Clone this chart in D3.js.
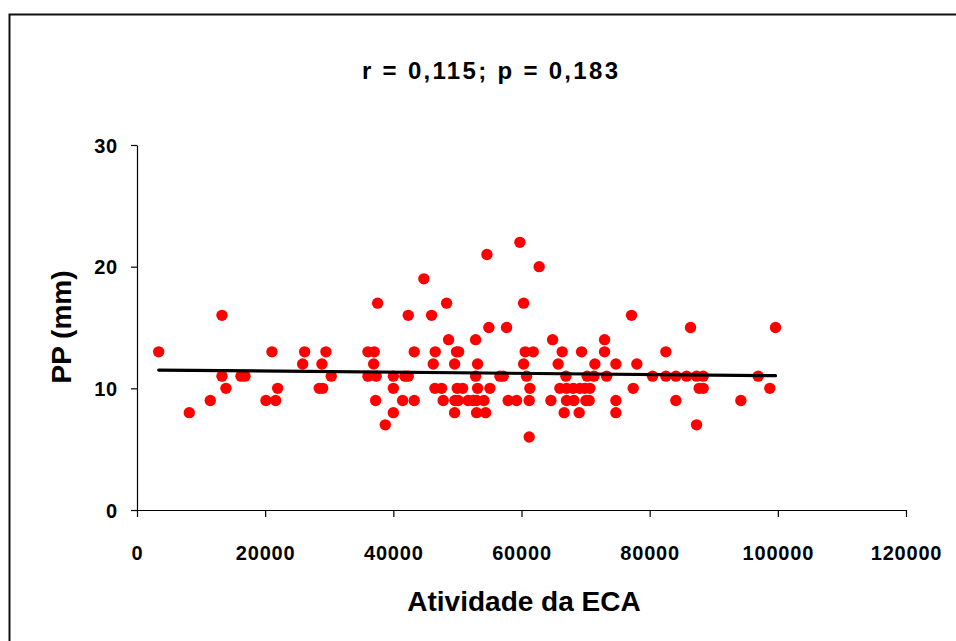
<!DOCTYPE html>
<html>
<head>
<meta charset="utf-8">
<script src="https://cdn.jsdelivr.net/npm/d3@7/dist/d3.min.js"></script>
<style>
  html, body { margin: 0; padding: 0; background: #fff; }
  svg { display: block; }
  text { font-family: "Liberation Sans", Arial, sans-serif; font-weight: bold; fill: #000; }
</style>
</head>
<body>
<svg id="chart" width="956" height="641"></svg>
<script>
// ---- data ----
const titleText = "r = 0,115; p = 0,183";
const xLabel = "Atividade da ECA";
const yLabel = "PP (mm)";
const xTicks = [0, 20000, 40000, 60000, 80000, 100000, 120000];
const yTicks = [0, 10, 20, 30];

// ECA activity values grouped by PP (mm) value
const pp22 = [59750];
const pp21 = [54600];
const pp20 = [62760];
const pp19 = [44770];
const pp17 = [37550, 48310, 60330];
const pp16 = [13260, 42330, 45970, 77170];
const pp15 = [54910, 57670, 86380, 99640];
const pp14 = [48620, 52840, 64850, 72960];
const pp13 = [3385, 21060, 26160, 29485, 36040, 37020, 43260, 46540, 49870, 50190, 60580, 61830, 66350, 69370, 72960, 82530];
const pp12 = [25850, 28860, 36930, 46230, 49560, 53150, 60330, 65720, 71450, 74730, 78000];
const pp11 = [13260, 16225, 16850, 30310, 36040, 37330, 40000, 41810, 42330, 52840, 56630, 57140, 60790, 66930, 70250, 71300, 73280, 80450, 82530, 84090, 85760, 87320, 88350, 96930];
const pp10 = [13885, 21950, 28440, 28970, 40000, 46490, 47530, 49970, 50810, 53150, 55070, 61310, 65990, 67030, 68070, 69110, 69890, 70670, 77430, 87720, 88350, 98750];
const pp9  = [11435, 20125, 21640, 37240, 41450, 43260, 47780, 49610, 50120, 51680, 52460, 52990, 54130, 57920, 59230, 61200, 64590, 67030, 68170, 70050, 70560, 74730, 84090, 94230];
const pp8  = [8160, 40000, 49560, 52990, 54400, 66660, 69000, 74730];
const pp7  = [38740, 87320];
const pp6  = [61200];

// trend line end points
const trendX = [3385, 99640];
const trendY = [11.50, 11.04];

// ---- build point table ----
const groups = [[22, pp22], [21, pp21], [20, pp20], [19, pp19], [17, pp17], [16, pp16], [15, pp15], [14, pp14],
                [13, pp13], [12, pp12], [11, pp11], [10, pp10], [9, pp9], [8, pp8], [7, pp7], [6, pp6]];
const points = [];
groups.forEach(([pp, xs]) => xs.forEach(v => points.push({x: v, y: pp})));

// ---- layout ----
const svg = d3.select("#chart");
const plotLeft = 137, plotRight = 906, plotTop = 145, plotBottom = 510;

const x = d3.scaleLinear().domain([0, 120000]).range([plotLeft, plotRight]);
const y = d3.scaleLinear().domain([0, 30]).range([plotBottom, plotTop]);

// outer frame
svg.append("rect")
  .attr("x", 9.5).attr("y", 14.5)
  .attr("width", 1000).attr("height", 700)
  .attr("fill", "none").attr("stroke", "#111").attr("stroke-width", 2);

// title
svg.append("text")
  .attr("x", 490).attr("y", 79)
  .attr("text-anchor", "middle")
  .attr("font-size", 24)
  .attr("textLength", 256).attr("lengthAdjust", "spacing")
  .text(titleText);

// axes
const xAxis = svg.append("g").attr("transform", `translate(0,${plotBottom})`)
  .call(d3.axisBottom(x).tickValues(xTicks).tickFormat(d3.format("d")).tickSize(7).tickSizeOuter(0));
const yAxis = svg.append("g").attr("transform", `translate(${plotLeft},0)`)
  .call(d3.axisLeft(y).tickValues(yTicks).tickFormat(d3.format("d")).tickSize(6).tickSizeOuter(0));

[xAxis, yAxis].forEach(g => {
  g.select(".domain").attr("stroke", "#000").attr("stroke-width", 1.2);
  g.selectAll(".tick line").attr("stroke", "#000").attr("stroke-width", 1.2);
  g.selectAll(".tick text")
    .attr("font-family", "Liberation Sans, Arial, sans-serif")
    .attr("font-weight", "bold")
    .attr("font-size", 20)
    .attr("letter-spacing", 0.8)
    .attr("fill", "#000");
});
xAxis.selectAll(".tick text").attr("dy", null).attr("y", 50);
yAxis.selectAll(".tick text").attr("x", -19).attr("dy", "0.36em");

// axis titles
svg.append("text")
  .attr("x", 524).attr("y", 611)
  .attr("text-anchor", "middle")
  .attr("font-size", 28)
  .text(xLabel);

svg.append("text")
  .attr("transform", `translate(71,327) rotate(-90)`)
  .attr("text-anchor", "middle")
  .attr("font-size", 28)
  .text(yLabel);

// points
svg.append("g").selectAll("circle")
  .data(points)
  .join("circle")
  .attr("cx", d => x(d.x))
  .attr("cy", d => y(d.y))
  .attr("r", 5.7)
  .attr("fill", "#ff0000");

// trend line
svg.append("line")
  .attr("x1", x(trendX[0])).attr("y1", y(trendY[0]))
  .attr("x2", x(trendX[1])).attr("y2", y(trendY[1]))
  .attr("stroke", "#000").attr("stroke-width", 3.2)
  .attr("stroke-linecap", "round");
</script>
</body>
</html>
